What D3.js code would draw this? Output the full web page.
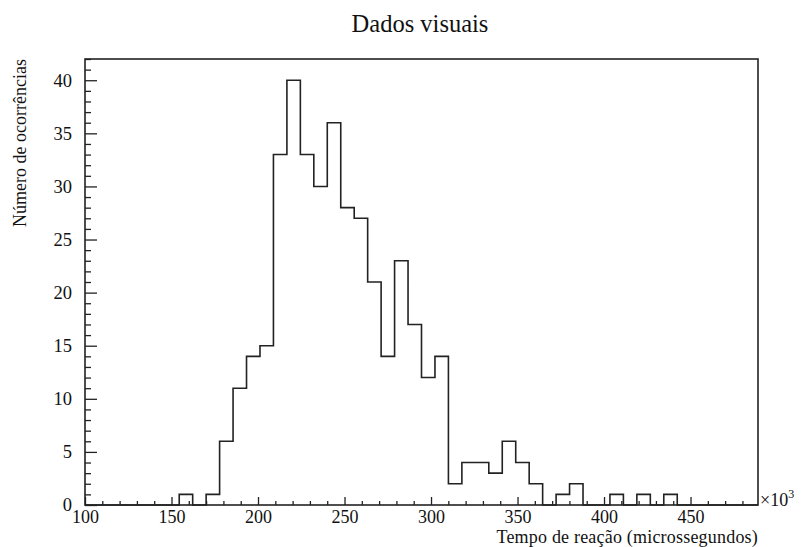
<!DOCTYPE html>
<html>
<head>
<meta charset="utf-8">
<script src="https://cdn.jsdelivr.net/npm/d3@7"></script>
<style>
  body { margin: 0; background: #fff; }
</style>
</head>
<body>
<div id="chart"></div>
<script>
// histogram: reaction time (x10^3 microseconds), 50 bins
var xRange = [100, 489]
var yRange = [0, 42]
var counts = [0, 0, 0, 0, 0, 0, 0, 1, 0, 1,
              6, 11, 14, 15, 33, 40, 33, 30, 36, 28,
              27, 21, 14, 23, 17, 12, 14, 2, 4, 4,
              3, 6, 4, 2, 0, 1, 2, 0, 0, 1,
              0, 1, 0, 1, 0, 0, 0, 0, 0, 0]
var xMajor = [100, 150, 200, 250, 300, 350, 400, 450]
var yMajor = [0, 5, 10, 15, 20, 25, 30, 35, 40]

var title = "Dados visuais"
var xTitle = "Tempo de reação (microssegundos)"
var yTitle = "Número de ocorrências"

var FONT = "'Liberation Serif', 'DejaVu Serif', 'Times New Roman', serif"

var W = 801, H = 547
var margin = {top: 59, right: 43, bottom: 42, left: 85}
var width = W - margin.left - margin.right,
    height = H - margin.top - margin.bottom

var svg = d3.select("#chart").append("svg")
    .attr("width", W)
    .attr("height", H)
    .attr("font-family", FONT)

var g = svg.append("g")
    .attr("transform", "translate(" + margin.left + "," + margin.top + ")")

var x = d3.scaleLinear().domain(xRange).range([0, width])
var y = d3.scaleLinear().domain(yRange).range([height, 0])

// bin edges
var binW = (xRange[1] - xRange[0]) / counts.length
var pts = [[xRange[0], 0]]
counts.forEach(function(c, i) { pts.push([xRange[0] + i * binW, c]) })
pts.push([xRange[1], counts[counts.length - 1]])
pts.push([xRange[1], 0])

// minor ticks
var xMinor = d3.range(100, 490, 10).filter(function(v) { return v % 50 != 0 })
var yMinor = d3.range(0, 43, 1).filter(function(v) { return v % 5 != 0 })

// x axis
g.append("g")
    .attr("class", "axis")
    .attr("transform", "translate(0," + height + ")")
    .call(d3.axisBottom(x).tickValues(xMinor).tickSize(-4).tickFormat(""))
var xAx = g.append("g")
    .attr("class", "axis")
    .attr("transform", "translate(0," + height + ")")
    .call(d3.axisBottom(x).tickValues(xMajor).tickSize(-8).tickPadding(5).tickFormat(d3.format("d")))

// y axis
g.append("g")
    .attr("class", "axis")
    .call(d3.axisLeft(y).tickValues(yMinor).tickSize(-6).tickFormat(""))
g.append("g")
    .attr("class", "axis")
    .call(d3.axisLeft(y).tickValues(yMajor).tickSize(-12).tickPadding(13).tickFormat(d3.format("d")))

g.selectAll(".axis").attr("font-family", FONT).attr("font-size", 18.5)
xAx.attr("font-size", 18)
g.selectAll(".axis .domain").remove()
g.selectAll(".axis line").attr("stroke", "#222").attr("stroke-width", 1.3)
g.selectAll(".axis text").attr("fill", "#111")

// histogram outline
var line = d3.line()
    .x(function(d) { return x(d[0]) })
    .y(function(d) { return y(d[1]) })
    .curve(d3.curveStepAfter)

g.append("path")
    .datum(pts)
    .attr("d", line)
    .attr("fill", "none")
    .attr("stroke", "#222")
    .attr("stroke-width", 1.6)

// frame
g.append("rect")
    .attr("x", 0)
    .attr("y", 0)
    .attr("width", width)
    .attr("height", height)
    .attr("fill", "none")
    .attr("stroke", "#222")
    .attr("stroke-width", 1.6)

// titles
svg.append("text")
    .attr("x", 420)
    .attr("y", 32)
    .attr("text-anchor", "middle")
    .attr("font-size", 24.5)
    .attr("fill", "#111")
    .text(title)

svg.append("text")
    .attr("x", margin.left + width)
    .attr("y", 543)
    .attr("text-anchor", "end")
    .attr("font-size", 18)
    .attr("letter-spacing", 0.2)
    .attr("fill", "#111")
    .text(xTitle)

svg.append("text")
    .attr("transform", "translate(26," + margin.top + ") rotate(-90)")
    .attr("text-anchor", "end")
    .attr("font-size", 18)
    .attr("fill", "#111")
    .text(yTitle)

var exp = svg.append("text")
    .attr("x", margin.left + width + 2)
    .attr("y", margin.top + height + 1)
    .attr("font-size", 18)
    .attr("fill", "#111")
exp.append("tspan").text("×10")
exp.append("tspan").attr("dy", -8).attr("font-size", 12).text("3")
</script>
</body>
</html>
